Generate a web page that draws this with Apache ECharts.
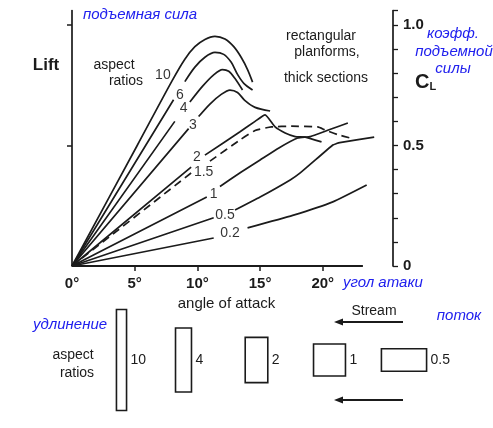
<!DOCTYPE html>
<html>
<head>
<meta charset="utf-8">
<script src="https://cdn.jsdelivr.net/npm/echarts@6/dist/echarts.min.js"></script>
<style>
  html, body { margin: 0; padding: 0; background: #fff; }
  #chart { width: 493px; height: 428px; }
</style>
</head>
<body>
<div id="chart"></div>
<script>
// lift curves, [angle of attack in degrees, C_L]; null = gap left for the label
const ar10 = [[0, 0], [5.2, 0.5], [8.0, 0.77], [9.0, 0.858], [9.8, 0.91], [10.6, 0.94], [11.4, 0.953], [12.2, 0.942], [12.9, 0.91], [13.5, 0.865], [14.0, 0.815], [14.4, 0.763]];
const ar6 = [[0, 0], [8.1, 0.69], null, [9.0, 0.765], [9.8, 0.825], [10.6, 0.866], [11.4, 0.886], [12.1, 0.878], [12.7, 0.845], [13.2, 0.795], [13.7, 0.758], [14.4, 0.73]];
const ar4 = [[0, 0], [8.2, 0.6], null, [9.4, 0.68], [10.4, 0.745], [11.3, 0.793], [12.0, 0.815], [12.5, 0.808], [13.0, 0.778], [13.6, 0.73]];
const ar3 = [[0, 0], [9.3, 0.57], null, [10.1, 0.62], [11.0, 0.672], [11.9, 0.712], [12.6, 0.73], [13.2, 0.72], [13.8, 0.686], [14.6, 0.658], [15.8, 0.643]];
const ar2 = [[0, 0], [9.5, 0.41], null, [10.6, 0.46], [13.4, 0.557], [14.6, 0.6], [15.4, 0.627], [16.2, 0.577], [17.0, 0.552], [17.8, 0.537], [18.6, 0.535], [19.9, 0.515]];
const ar15 = [[0, 0], [9.5, 0.386], null, [11.0, 0.435], [13.4, 0.523], [14.6, 0.562], [15.9, 0.577], [17.5, 0.58], [19.6, 0.577], [20.2, 0.564], [21.2, 0.545], [22.2, 0.531]];
const ar1 = [[0, 0], [10.75, 0.286], null, [11.8, 0.33], [13.5, 0.39], [15.0, 0.44], [16.5, 0.49], [18.0, 0.531], [19.0, 0.537], [20.5, 0.565], [22.0, 0.593]];
const ar05 = [[0, 0], [11.3, 0.2], null, [13.0, 0.232], [15.0, 0.286], [17.4, 0.357], [18.2, 0.386], [20.8, 0.502], [21.1, 0.508], [21.35, 0.512], [24.1, 0.535]];
const ar02 = [[0, 0], [11.3, 0.116], null, [14.0, 0.158], [17.6, 0.21], [20.8, 0.266], [23.5, 0.336]];

const curveNames = ['10', '6', '4', '3', '2', '1.5', '1', '0.5', '0.2'];
const curveLabelAt = [[7.25, 0.79], [8.6, 0.71], [8.9, 0.655], [9.65, 0.585], [9.96, 0.452], [10.5, 0.39], [11.3, 0.3], [12.2, 0.21], [12.6, 0.137]];

const angleTicks = [0, 5, 10, 15, 20];
const clTicks = [0, 0.5, 1.0];
const xAxisLineEnd = 23.2;

// planform sketches below the plot
const planformRatios = [10, 4, 2, 1, 0.5];

const ink = '#1b1b1b';
const blue = '#2020ee';
const hand = 'Liberation Sans, Arial, sans-serif';

const chart = echarts.init(document.getElementById('chart'), null, { renderer: 'canvas' });

const curves = [ar10, ar6, ar4, ar3, ar2, ar15, ar1, ar05, ar02];
const lineSeries = curves.map((pts, i) => ({
  name: curveNames[i],
  type: 'line',
  xAxisIndex: 0,
  yAxisIndex: 1,
  data: pts.map(p => p || ['-', '-']),
  symbol: 'none',
  smooth: i < 4 ? 0.3 : 0.15,
  connectNulls: false,
  silent: true,
  lineStyle: {
    color: ink,
    width: 1.7,
    type: curveNames[i] === '1.5' ? [8, 5] : 'solid'
  }
}));

// planform rectangles, all with about the same area
const area = 1020;
const planX = [121.5, 183.5, 256.5, 329.5, 404];
const planY = 360;
const planGraphics = [];
planformRatios.forEach((r, i) => {
  const span = Math.sqrt(area * r);
  const chord = Math.sqrt(area / r);
  planGraphics.push({
    type: 'rect',
    shape: { x: planX[i] - chord / 2, y: planY - span / 2, width: chord, height: span },
    style: { fill: 'none', stroke: ink, lineWidth: 1.6 }
  });
  planGraphics.push({
    type: 'text',
    x: planX[i] + chord / 2 + 4,
    y: planY,
    style: { text: String(r), font: '14px ' + hand, fill: ink, textVerticalAlign: 'middle' }
  });
});

function txt(text, x, y, opts) {
  return {
    type: 'text', x: x, y: y,
    style: Object.assign({
      text: text, fill: ink, font: '14px ' + hand,
      textAlign: 'center', textVerticalAlign: 'middle'
    }, opts || {})
  };
}
const blueFont = 'italic 15px ' + hand;

function arrow(y) {
  return [
    { type: 'line', shape: { x1: 338, y1: y, x2: 403, y2: y }, style: { stroke: ink, lineWidth: 1.8 } },
    { type: 'polygon', shape: { points: [[334, y], [343, y - 3.5], [343, y + 3.5]] }, style: { fill: ink } }
  ];
}

const option = {
  backgroundColor: '#fff',
  animation: false,
  grid: { left: 72, right: 100, top: 10.5, bottom: 162, containLabel: false },
  xAxis: {
    type: 'value',
    min: 0,
    max: 25.6,
    axisLine: { show: false },
    axisTick: { show: true, customValues: angleTicks.slice(1), length: 5, lineStyle: { color: ink, width: 1.5 } },
    axisLabel: {
      customValues: angleTicks,
      formatter: '{value}°',
      color: ink,
      fontSize: 15,
      fontWeight: 'bold',
      fontFamily: hand,
      margin: 10
    },
    splitLine: { show: false },
    name: 'angle of attack',
    nameLocation: 'middle',
    nameGap: 30,
    nameTextStyle: { color: ink, fontSize: 15, fontFamily: hand, padding: [0, 12, 0, 0] }
  },
  yAxis: [
    {
      type: 'value',
      position: 'left',
      min: 0,
      max: 1.06,
      axisLine: { show: true, lineStyle: { color: ink, width: 1.7 } },
      axisTick: { show: true, customValues: [0.5, 1.0], length: 5, lineStyle: { color: ink, width: 1.5 } },
      axisLabel: { show: false },
      splitLine: { show: false }
    },
    {
      type: 'value',
      position: 'right',
      min: 0,
      max: 1.06,
      interval: 0.1,
      axisLine: { show: true, lineStyle: { color: ink, width: 1.7 } },
      axisTick: { show: true, length: 5, lineStyle: { color: ink, width: 1.3 } },
      axisLabel: {
        customValues: clTicks,
        formatter: v => (v === 0 ? '0' : v.toFixed(1)),
        color: ink,
        fontSize: 15,
        fontWeight: 'bold',
        fontFamily: hand,
        margin: 10,
        padding: [3, 0, 0, 0]
      },
      splitLine: { show: false }
    }
  ],
  series: lineSeries.concat([
    {
      name: 'baseline',
      type: 'line',
      yAxisIndex: 1,
      data: [[0, 0], [xAxisLineEnd, 0]],
      symbol: 'none',
      silent: true,
      lineStyle: { color: ink, width: 1.8 }
    },
    {
      name: 'curve labels',
      type: 'scatter',
      yAxisIndex: 1,
      symbolSize: 0,
      silent: true,
      data: curveLabelAt.map((p, i) => ({ value: p, name: curveNames[i] })),
      label: {
        show: true,
        position: 'inside',
        formatter: p => p.name,
        color: '#000',
        fontSize: 14,
        fontFamily: hand
      }
    }
  ]),
  graphic: [
    txt('подъемная сила', 83, 15, { font: blueFont, fill: blue, textAlign: 'left' }),
    txt('Lift', 46, 65, { font: 'bold 17px ' + hand }),
    txt('aspect', 114, 65),
    txt('ratios', 126, 81),
    txt('rectangular', 321, 36),
    txt('planforms,', 327, 52),
    txt('thick sections', 326, 78),
    txt('коэфф.', 453, 34, { font: blueFont, fill: blue }),
    txt('подъемной', 454, 52, { font: blueFont, fill: blue }),
    txt('силы', 453, 69, { font: blueFont, fill: blue }),
    {
      type: 'text', x: 415, y: 82,
      style: {
        text: '{c|C}{l|L}',
        textVerticalAlign: 'middle',
        rich: {
          c: { font: 'bold 20px ' + hand, fill: ink },
          l: { font: 'bold 11px ' + hand, fill: ink, padding: [10, 0, 0, 0] }
        }
      }
    },
    txt('угол атаки', 343, 283, { font: blueFont, fill: blue, textAlign: 'left' }),
    txt('удлинение', 70, 325, { font: blueFont, fill: blue }),
    txt('aspect', 73, 355),
    txt('ratios', 77, 373),
    txt('Stream', 374, 311),
    txt('поток', 459, 316, { font: blueFont, fill: blue })
  ].concat(arrow(322), arrow(400), planGraphics)
};

chart.setOption(option);
</script>
</body>
</html>
